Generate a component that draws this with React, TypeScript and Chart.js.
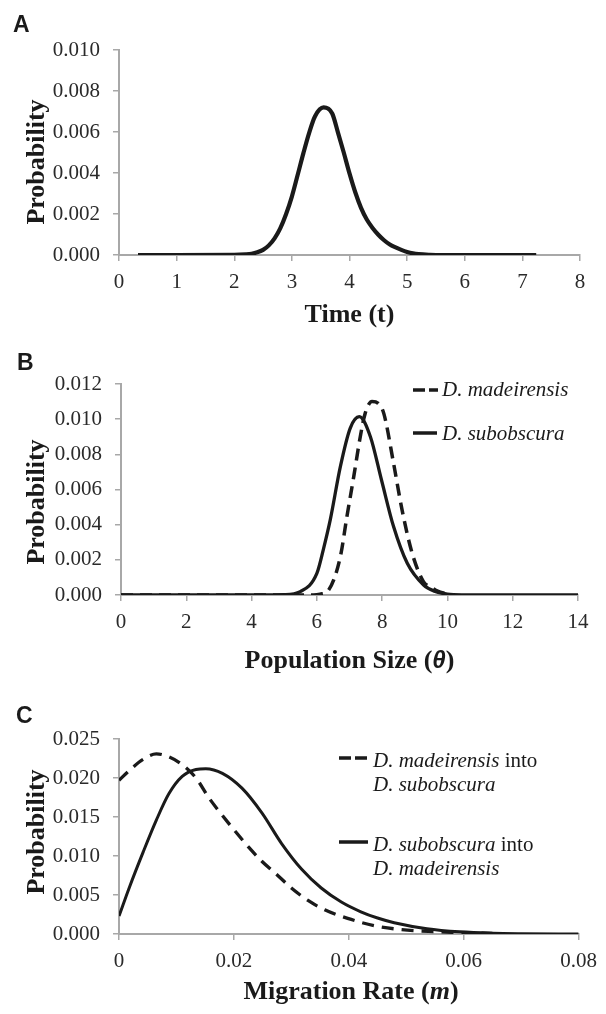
import React, { useEffect, useRef } from 'react';
import { Chart, registerables } from 'chart.js';

Chart.register(...registerables);

// ---------- DATA ----------
// Panel A: Time (t)
const timeX = [0.33, 1.0, 2.0, 2.2, 2.3, 2.4, 2.5, 2.6, 2.7, 2.8, 2.9, 3.0, 3.1, 3.2, 3.3, 3.4, 3.55, 3.7, 3.8, 3.9, 4.0, 4.1, 4.2, 4.3, 4.4, 4.5, 4.6, 4.7, 4.8, 4.9, 5.0, 5.1, 5.2, 5.4, 5.6, 6.0, 7.24];
const timeProb = [0, 0, 0.000005, 0.00003, 0.00006, 0.00013, 0.00025, 0.00047, 0.00081, 0.00131, 0.002, 0.00285, 0.0039, 0.00497, 0.00596, 0.00676, 0.0072, 0.0069, 0.00597, 0.005, 0.00398, 0.00306, 0.0023, 0.00173, 0.00132, 0.00099, 0.00072, 0.00051, 0.00037, 0.00025, 0.00015, 0.00008, 0.00004, 0.00001, 0, 0, 0];
const timeTicks = [0, 1, 2, 3, 4, 5, 6, 7, 8];
const probTicksA = [0, 0.002, 0.004, 0.006, 0.008, 0.01];

// Panel B: Population Size (theta)
const thetaMadX = [0, 2, 4, 5.9, 6.1, 6.36, 6.72, 6.92, 7.13, 7.33, 7.48, 7.69, 7.88, 8.05, 8.35, 8.61, 8.92, 9.27, 9.5, 9.7, 10.0];
const thetaMadProb = [0, 0, 0, 0, 0.00005, 0.00028, 0.00218, 0.00445, 0.00673, 0.009, 0.01033, 0.011, 0.0109, 0.01033, 0.00749, 0.00484, 0.00237, 0.00075, 0.00045, 0.00022, 0.00005];
const thetaSubX = [0, 2, 4, 5.0, 5.49, 6.0, 6.2, 6.41, 6.72, 7.02, 7.3, 7.64, 7.98, 8.35, 8.77, 9.27, 9.6, 10.0, 10.5, 12, 14];
const thetaSubProb = [0, 0, 0, 0.00002, 0.00019, 0.00123, 0.0026, 0.00427, 0.0073, 0.00948, 0.01014, 0.009, 0.00654, 0.00389, 0.0018, 0.00057, 0.00022, 0.00005, 0.00001, 0, 0];
const thetaTicks = [0, 2, 4, 6, 8, 10, 12, 14];
const probTicksB = [0, 0.002, 0.004, 0.006, 0.008, 0.01, 0.012];

// Panel C: Migration Rate (m)
const migMadX = [0, 0.00185, 0.0042, 0.0065, 0.0087, 0.011, 0.0134, 0.0157, 0.018, 0.0203, 0.0226, 0.0249, 0.0272, 0.03, 0.0329, 0.0358, 0.0398, 0.045, 0.0502, 0.0553, 0.06, 0.065];
const migMadProb = [0.0197, 0.021, 0.0224, 0.0231, 0.0227, 0.0217, 0.02, 0.0174, 0.0152, 0.0131, 0.0111, 0.0093, 0.0078, 0.0059, 0.0043, 0.0031, 0.002, 0.00098, 0.0005, 0.0003, 0.00015, 0.00008];
const migSubX = [0, 0.00185, 0.0042, 0.0065, 0.0087, 0.011, 0.0134, 0.0151, 0.018, 0.0214, 0.0249, 0.0283, 0.0318, 0.0352, 0.0387, 0.0421, 0.045, 0.0479, 0.0536, 0.0593, 0.065, 0.07, 0.08];
const migSubProb = [0.0023, 0.00607, 0.0105, 0.0146, 0.018, 0.0202, 0.0211, 0.0212, 0.0206, 0.0187, 0.0155, 0.0116, 0.0083, 0.0059, 0.0041, 0.00285, 0.00205, 0.00145, 0.00068, 0.00028, 0.0001, 0.00004, 0];
const migTicks = [0, 0.02, 0.04, 0.06, 0.08];
const probTicksC = [0, 0.005, 0.01, 0.015, 0.02, 0.025];

// ---------- STYLE ----------
const SERIF = '"Liberation Serif", "Times New Roman", serif';
const SANS = '"Liberation Sans", Arial, sans-serif';
const AXIS_GRAY = '#a8a8a8';
const INK = '#1a1a1a';
const TICK_INK = '#2a2a2a';
const TITLE_FONT = `bold 26px ${SERIF}`;
const LEG_IT = `italic 21px ${SERIF}`;
const LEG_RG = `21px ${SERIF}`;

type Seg = { t: string; f: string };

function drawRich(ctx: CanvasRenderingContext2D, segs: Seg[], cx: number, y: number) {
  let total = 0;
  for (const s of segs) {
    ctx.font = s.f;
    total += ctx.measureText(s.t).width;
  }
  let x = cx - total / 2;
  ctx.textAlign = 'left';
  for (const s of segs) {
    ctx.font = s.f;
    ctx.fillText(s.t, x, y);
    x += ctx.measureText(s.t).width;
  }
}

type LegendItem = { dash: boolean; x1: number; x2: number; y: number; tx: number; lines: { y: number; segs: Seg[] }[] };

type TextCfg = {
  letter: string; lx: number; ly: number;
  yTitleX: number; yTitleY: number;
  xTitle: Seg[]; xTitleX: number; xTitleY: number;
  legend: LegendItem[];
};

function makeTextPlugin(cfg: TextCfg) {
  return {
    id: 'panelText',
    afterDraw(chart: any) {
      const ctx: CanvasRenderingContext2D = chart.ctx;
      ctx.save();
      ctx.fillStyle = INK;
      ctx.textBaseline = 'alphabetic';
      // panel letter
      ctx.font = `bold 23px ${SANS}`;
      ctx.textAlign = 'left';
      ctx.fillText(cfg.letter, cfg.lx, cfg.ly);
      // y title
      ctx.save();
      ctx.translate(cfg.yTitleX, cfg.yTitleY);
      ctx.rotate(-Math.PI / 2);
      ctx.font = TITLE_FONT;
      ctx.textAlign = 'center';
      ctx.fillText('Probability', 0, 0);
      ctx.restore();
      // x title
      drawRich(ctx, cfg.xTitle, cfg.xTitleX, cfg.xTitleY);
      // legend
      for (const it of cfg.legend) {
        ctx.save();
        ctx.strokeStyle = INK;
        ctx.lineWidth = 3.5;
        ctx.setLineDash(it.dash ? [12, 4] : []);
        ctx.beginPath();
        ctx.moveTo(it.x1, it.y);
        ctx.lineTo(it.x2, it.y);
        ctx.stroke();
        ctx.restore();
        for (const ln of it.lines) {
          ctx.textAlign = 'left';
          let x = it.tx;
          for (const s of ln.segs) {
            ctx.font = s.f;
            ctx.fillText(s.t, x, ln.y);
            x += ctx.measureText(s.t).width;
          }
        }
      }
      ctx.restore();
    },
  };
}

function axis(ticks: number[], fmt: (v: number) => string, fit: (s: any) => void, pad: number) {
  return {
    type: 'linear' as const,
    min: ticks[0],
    max: ticks[ticks.length - 1],
    afterBuildTicks: (scale: any) => {
      scale.ticks = ticks.map((v) => ({ value: v }));
    },
    afterFit: fit,
    grid: { drawOnChartArea: false, drawTicks: true, tickLength: 6, color: AXIS_GRAY, lineWidth: 1.5 },
    border: { display: true, color: AXIS_GRAY, width: 2 },
    ticks: {
      font: { family: SERIF, size: 21 },
      color: TICK_INK,
      padding: pad,
      maxRotation: 0,
      autoSkip: false,
      callback: (v: any) => fmt(Number(v)),
    },
  };
}

const zip = (xs: number[], ys: number[]) => xs.map((x, i) => ({ x, y: ys[i] }));

type PanelSpec = {
  top: number; height: number;
  chartTop: number; chartBottom: number; chartLeft: number; chartRight: number;
  xTicks: number[]; yTicks: number[]; xFmt: (v: number) => string;
  datasets: any[];
  text: TextCfg;
};

const yFmt = (v: number) => v.toFixed(3);

const panels: PanelSpec[] = [
  {
    top: 0, height: 340, chartTop: 50, chartBottom: 255, chartLeft: 119, chartRight: 580,
    xTicks: timeTicks, yTicks: probTicksA, xFmt: (v) => String(v),
    datasets: [
      { data: zip(timeX, timeProb), borderColor: INK, borderWidth: 4.2, pointRadius: 0, cubicInterpolationMode: 'monotone', fill: false },
    ],
    text: {
      letter: 'A', lx: 13, ly: 32,
      yTitleX: 44, yTitleY: 162,
      xTitle: [{ t: 'Time (t)', f: TITLE_FONT }], xTitleX: 349.5, xTitleY: 322,
      legend: [],
    },
  },
  {
    top: 340, height: 335, chartTop: 44, chartBottom: 255, chartLeft: 121, chartRight: 578,
    xTicks: thetaTicks, yTicks: probTicksB, xFmt: (v) => String(v),
    datasets: [
      { data: zip(thetaMadX, thetaMadProb), borderColor: INK, borderWidth: 3.5, borderDash: [12, 7], pointRadius: 0, cubicInterpolationMode: 'monotone', fill: false },
      { data: zip(thetaSubX, thetaSubProb), borderColor: INK, borderWidth: 3.3, pointRadius: 0, cubicInterpolationMode: 'monotone', fill: false },
    ],
    text: {
      letter: 'B', lx: 17, ly: 30,
      yTitleX: 44, yTitleY: 162,
      xTitle: [
        { t: 'Population Size (', f: TITLE_FONT },
        { t: 'θ', f: `bold italic 24px ${SANS}` },
        { t: ')', f: TITLE_FONT },
      ],
      xTitleX: 349.5, xTitleY: 328,
      legend: [
        { dash: true, x1: 413, x2: 438, y: 50, tx: 442, lines: [{ y: 56, segs: [{ t: 'D. madeirensis', f: LEG_IT }] }] },
        { dash: false, x1: 413, x2: 437, y: 93, tx: 442, lines: [{ y: 100, segs: [{ t: 'D. subobscura', f: LEG_IT }] }] },
      ],
    },
  },
  {
    top: 675, height: 339, chartTop: 64, chartBottom: 259, chartLeft: 119, chartRight: 583,
    xTicks: migTicks, yTicks: probTicksC, xFmt: (v) => (v === 0 ? '0' : v.toFixed(2)),
    datasets: [
      { data: zip(migMadX, migMadProb), borderColor: INK, borderWidth: 3.3, borderDash: [12, 8], pointRadius: 0, cubicInterpolationMode: 'monotone', fill: false },
      { data: zip(migSubX, migSubProb), borderColor: INK, borderWidth: 3, pointRadius: 0, cubicInterpolationMode: 'monotone', fill: false },
    ],
    text: {
      letter: 'C', lx: 16, ly: 48,
      yTitleX: 44, yTitleY: 157,
      xTitle: [
        { t: 'Migration Rate (', f: TITLE_FONT },
        { t: 'm', f: `bold italic 26px ${SERIF}` },
        { t: ')', f: TITLE_FONT },
      ],
      xTitleX: 351, xTitleY: 324,
      legend: [
        {
          dash: true, x1: 339, x2: 368, y: 83, tx: 373,
          lines: [
            { y: 92, segs: [{ t: 'D. madeirensis', f: LEG_IT }, { t: ' into', f: LEG_RG }] },
            { y: 116, segs: [{ t: 'D. subobscura', f: LEG_IT }] },
          ],
        },
        {
          dash: false, x1: 339, x2: 368, y: 167, tx: 373,
          lines: [
            { y: 176, segs: [{ t: 'D. subobscura', f: LEG_IT }, { t: ' into', f: LEG_RG }] },
            { y: 200, segs: [{ t: 'D. madeirensis', f: LEG_IT }] },
          ],
        },
      ],
    },
  },
];

function Panel({ spec }: { spec: PanelSpec }) {
  const ref = useRef<HTMLCanvasElement>(null);
  useEffect(() => {
    const canvas = ref.current!;
    const chart = new Chart(canvas, {
      type: 'line',
      data: { datasets: spec.datasets },
      options: {
        animation: false,
        responsive: false,
        maintainAspectRatio: false,
        devicePixelRatio: 1,
        events: [],
        layout: {
          padding: { top: spec.chartTop, right: 606 - spec.chartRight, bottom: 0, left: 0 },
        },
        plugins: { legend: { display: false }, tooltip: { enabled: false } },
        scales: {
          x: axis(spec.xTicks, spec.xFmt, (s: any) => { s.height = spec.height - spec.chartBottom; }, 9),
          y: axis(spec.yTicks, yFmt, (s: any) => { s.width = spec.chartLeft; }, 13),
        },
      } as any,
      plugins: [makeTextPlugin(spec.text)],
    });
    return () => chart.destroy();
  }, [spec]);
  return (
    <canvas
      ref={ref}
      width={606}
      height={spec.height}
      style={{ position: 'absolute', left: 0, top: spec.top, width: 606, height: spec.height, display: 'block' }}
    />
  );
}

export default function App() {
  return (
    <div style={{ position: 'absolute', left: 0, top: 0, width: 606, height: 1014, background: '#ffffff', overflow: 'hidden' }}>
      {panels.map((p, i) => (
        <Panel key={i} spec={p} />
      ))}
    </div>
  );
}
